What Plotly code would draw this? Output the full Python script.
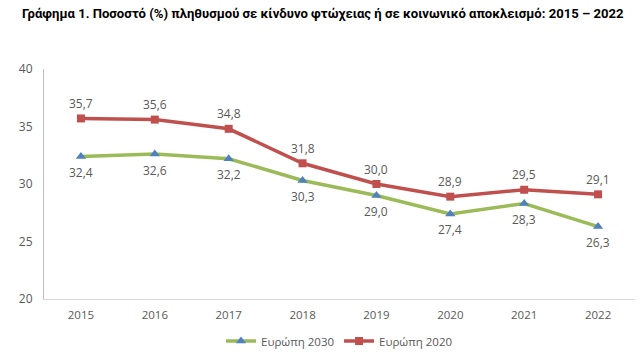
import plotly.graph_objects as go

years = ["2015", "2016", "2017", "2018", "2019", "2020", "2021", "2022"]
europe2030 = [32.4, 32.6, 32.2, 30.3, 29.0, 27.4, 28.3, 26.3]
europe2020 = [35.7, 35.6, 34.8, 31.8, 30.0, 28.9, 29.5, 29.1]
title = "Γράφημα 1. Ποσοστό (%) πληθυσμού σε κίνδυνο φτώχειας ή σε κοινωνικό αποκλεισμό: 2015 – 2022"

def fmt(v):
    return f"{v:.1f}".replace(".", ",")

FONT = "Open Sans"
fig = go.Figure()
fig.add_trace(go.Scatter(
    x=years, y=europe2030, name="Ευρώπη 2030", mode="lines+markers",
    line=dict(color="#9BBB59", width=3.5),
    marker=dict(symbol="triangle-up", color="#4F81BD", size=9),
))
fig.add_trace(go.Scatter(
    x=years, y=europe2020, name="Ευρώπη 2020", mode="lines+markers",
    line=dict(color="#C0504D", width=3.5),
    marker=dict(symbol="square", color="#C0504D", size=8),
))
# category axis: annotation x uses the category index
for i, v in enumerate(europe2030):
    fig.add_annotation(x=i, y=v, xref="x", yref="y", text=fmt(v), showarrow=False, yshift=-16,
                       font=dict(size=12, color="#595959", family=FONT))
for i, v in enumerate(europe2020):
    fig.add_annotation(x=i, y=v, xref="x", yref="y", text=fmt(v), showarrow=False, yshift=15,
                       font=dict(size=12, color="#595959", family=FONT))
fig.update_layout(
    width=644, height=359,
    margin=dict(l=44, r=9, t=69, b=60, autoexpand=False),
    paper_bgcolor="white", plot_bgcolor="white",
    font=dict(family=FONT, color="#595959", size=11),
    title=dict(text="<b>" + title + "</b>", x=0.034, xanchor="left", yref="container",
               y=0.962, yanchor="middle",
               font=dict(size=13.1, color="#000000", family="Roboto")),
    showlegend=True,
    legend=dict(orientation="h", x=0.5, xanchor="center", yref="container", y=0.05,
                yanchor="middle", font=dict(size=11.5, color="#595959"), traceorder="normal"),
    xaxis=dict(type="category", range=[-0.5, len(years) - 0.5], showgrid=False, showline=True,
               automargin=False, linecolor="#D9D9D9", ticks="", ticklabelstandoff=5,
               tickfont=dict(size=11.5, color="#595959")),
    yaxis=dict(range=[20, 40], dtick=5, showgrid=False, showline=True, linecolor="#BFBFBF",
               automargin=False, ticks="", ticklabelstandoff=8, zeroline=False,
               tickfont=dict(size=12, color="#595959")),
)
fig.write_html("out.html", config={"displayModeBar": False},
               post_script="document.body.style.margin='0';")
